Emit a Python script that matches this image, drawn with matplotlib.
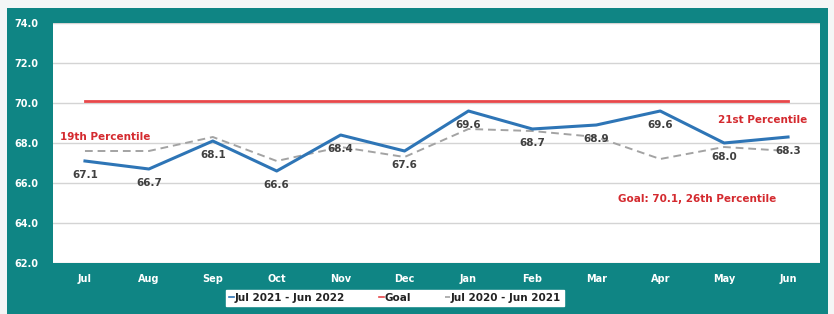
import matplotlib
matplotlib.use("Agg")
import matplotlib.pyplot as plt
from matplotlib.patches import Rectangle

months = ["Jul", "Aug", "Sep", "Oct", "Nov", "Dec", "Jan", "Feb", "Mar", "Apr", "May", "Jun"]
current = [67.1, 66.7, 68.1, 66.6, 68.4, 67.6, 69.6, 68.7, 68.9, 69.6, 68.0, 68.3]
goal = [70.1] * 12
previous = [67.6, 67.6, 68.3, 67.1, 67.8, 67.3, 68.7, 68.6, 68.3, 67.2, 67.8, 67.6]
yticks = [62.0, 64.0, 66.0, 68.0, 70.0, 72.0, 74.0]

W, H = 834, 314
TEAL = "#0f8584"
fig = plt.figure(figsize=(W / 100, H / 100), dpi=100)
fig.patch.set_facecolor("#f4f6f6")
fig.add_artist(Rectangle((7 / W, 0), (828 - 7) / W, (H - 8) / H, transform=fig.transFigure,
                         facecolor=TEAL, edgecolor="none", zorder=0))

ax = fig.add_axes([53 / W, (H - 263) / H, (820 - 53) / W, (263 - 23) / H])
ax.set_facecolor("white")
x = list(range(len(months)))
ax.set_xlim(-0.5, 11.5)
ax.set_ylim(62, 74)
ax.set_yticks(yticks)
ax.set_yticklabels([f"{v:.1f}" for v in yticks], color="white", fontsize=7, fontweight="bold")
ax.set_xticks(x)
ax.set_xticklabels(months, color="white", fontsize=7, fontweight="bold")
ax.tick_params(length=0, pad=8)
ax.tick_params(axis="y", pad=28)
for lab in ax.get_yticklabels():
    lab.set_horizontalalignment("left")
for s in ax.spines.values():
    s.set_visible(False)
ax.grid(axis="y", color="#d4d4d4", linewidth=1)
ax.set_axisbelow(True)

l1, = ax.plot(x, current, color="#2e75b6", linewidth=2.2, label="Jul 2021 - Jun 2022", zorder=4)
l2, = ax.plot(x, goal, color="#e8474a", linewidth=2, label="Goal", zorder=3)
l3, = ax.plot(x, previous, color="#a3a3a3", linewidth=1.4, linestyle=(0, (4, 2.5)),
              label="Jul 2020 - Jun 2021", zorder=3)

for xi, v in zip(x, current):
    ax.annotate(f"{v:.1f}", (xi, v), xytext=(0, -10), textcoords="offset points",
                ha="center", va="center", fontsize=7.5, fontweight="bold", color="#404040", zorder=5)

red = "#d42a2f"
fig.text(718 / W, 1 - 120 / H, "21st Percentile", fontsize=7.5, fontweight="bold", color=red,
         ha="left", va="center")
fig.text(618 / W, 1 - 199 / H, "Goal: 70.1, 26th Percentile", fontsize=7.5, fontweight="bold",
         color=red, ha="left", va="center")
fig.text(60 / W, 1 - 137 / H, "19th Percentile", fontsize=7.5, fontweight="bold", color=red,
         ha="left", va="center")

leg = fig.legend(handles=[l1, l2, l3], loc="center", bbox_to_anchor=(395 / W, 1 - 298 / H),
                 ncol=3, frameon=True, fancybox=False, handlelength=0.5, framealpha=1,
                 handletextpad=0.1, columnspacing=3.2, borderpad=0.3, borderaxespad=0,
                 edgecolor="white", prop={"weight": "bold", "size": 7.5})
leg.get_frame().set_facecolor("white")
for t in leg.get_texts():
    t.set_color("#222222")
for h in leg.legend_handles:
    h.set_linewidth(1.2)

fig.savefig("out.png", dpi=100, facecolor=fig.get_facecolor())
